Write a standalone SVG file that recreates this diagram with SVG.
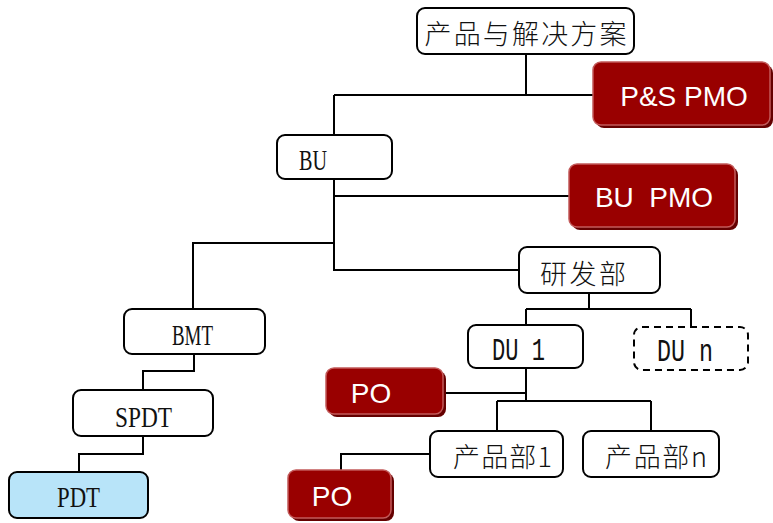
<svg xmlns="http://www.w3.org/2000/svg" width="773" height="523" viewBox="0 0 773 523">
  <style>
    .box { fill: #ffffff; stroke: #000000; stroke-width: 2; }
    .dash { fill: #ffffff; stroke: #000000; stroke-width: 2; stroke-dasharray: 7 5; }
    .pdt { fill: #b8e4f9; stroke: #000000; stroke-width: 2; }
    .pmo { fill: #990000; stroke: #c25a5a; stroke-width: 1.5; }
    .pmo-shade { fill: #650000; }
    .lbl { font-family: "Liberation Serif", "Noto Sans CJK SC", serif; font-size: 30px; fill: #111111; }
    .mono { font-family: "Liberation Mono", "Noto Sans CJK SC", monospace; font-size: 31px; fill: #111111; }
    .cjk { font-family: "Noto Sans CJK SC", "Liberation Serif", serif; font-size: 27px; fill: #111111; font-weight: 300; }
    .pmo-t { font-family: "Liberation Sans", Arial, sans-serif; font-size: 28px; fill: #ffffff; }
    .wire { fill: none; stroke: #000000; stroke-width: 2; }
  </style>

  <!-- connectors -->
  <g id="connectors">
    <path class="wire" d="M526,54 V95 M334,95 H593 M334,95 V135"/>
    <path class="wire" d="M334,179 V270 H519 M334,196 H569 M334,243 H193 V309"/>
    <path class="wire" d="M589,293 V309 M526,309 H691 M526,309 V325 M691,309 V327"/>
    <path class="wire" d="M526,368 V401 M526,393 H444 M497,401 H651 M497,401 V431 M651,401 V431"/>
    <path class="wire" d="M430,454 H341 V470"/>
    <path class="wire" d="M194,354 V371 H143 V390 M143,436 V454 H79 V472"/>
  </g>

  <g id="node-solutions">
    <rect class="box" x="417" y="8" width="217" height="46" rx="8"/>
    <text class="cjk" x="525.5" y="44" text-anchor="middle" textLength="202" lengthAdjust="spacing">产品与解决方案</text>
  </g>

  <g id="node-ps-pmo">
    <rect class="pmo-shade" x="596" y="65" width="177" height="63" rx="8"/>
    <rect class="pmo" x="593" y="62" width="177" height="63" rx="8"/>
    <text class="pmo-t" x="684" y="106" text-anchor="middle">P&amp;S PMO</text>
  </g>

  <g id="node-bu">
    <rect class="box" x="277" y="135" width="115" height="44" rx="8"/>
    <text class="lbl" x="299" y="170" textLength="28" lengthAdjust="spacingAndGlyphs">BU</text>
  </g>

  <g id="node-bu-pmo">
    <rect class="pmo-shade" x="572" y="167" width="166" height="63" rx="8"/>
    <rect class="pmo" x="569" y="164" width="166" height="63" rx="8"/>
    <text class="pmo-t" x="654" y="207" text-anchor="middle" xml:space="preserve">BU  PMO</text>
  </g>

  <g id="node-rd">
    <rect class="box" x="519" y="247" width="141" height="46" rx="8"/>
    <text class="cjk" x="583" y="284" text-anchor="middle" textLength="86" lengthAdjust="spacing">研发部</text>
  </g>

  <g id="node-du1">
    <rect class="box" x="468" y="325" width="115" height="43" rx="8"/>
    <text class="mono" x="492" y="360" textLength="53" lengthAdjust="spacingAndGlyphs" xml:space="preserve">DU 1</text>
  </g>

  <g id="node-dun">
    <rect class="dash" x="634" y="327" width="114" height="43" rx="8"/>
    <text class="mono" x="657" y="361" textLength="56" lengthAdjust="spacingAndGlyphs" xml:space="preserve">DU n</text>
  </g>

  <g id="node-po-du">
    <rect class="pmo-shade" x="329" y="371" width="117" height="46" rx="8"/>
    <rect class="pmo" x="326" y="368" width="117" height="46" rx="8"/>
    <text class="pmo-t" x="371" y="403" text-anchor="middle">PO</text>
  </g>

  <g id="node-product1">
    <rect class="box" x="430" y="431" width="133" height="46" rx="8"/>
    <text class="cjk" x="453" y="467" textLength="99" lengthAdjust="spacing">产品部1</text>
  </g>

  <g id="node-productn">
    <rect class="box" x="583" y="431" width="136" height="46" rx="8"/>
    <text class="cjk" x="605" y="467" textLength="102" lengthAdjust="spacing">产品部n</text>
  </g>

  <g id="node-po-product">
    <rect class="pmo-shade" x="291" y="473" width="103" height="48" rx="8"/>
    <rect class="pmo" x="288" y="470" width="103" height="48" rx="8"/>
    <text class="pmo-t" x="332" y="506" text-anchor="middle">PO</text>
  </g>

  <g id="node-bmt">
    <rect class="box" x="124" y="309" width="141" height="45" rx="8"/>
    <text class="lbl" x="172" y="345" textLength="41" lengthAdjust="spacingAndGlyphs">BMT</text>
  </g>

  <g id="node-spdt">
    <rect class="box" x="73" y="390" width="140" height="46" rx="8"/>
    <text class="lbl" x="115" y="427" textLength="57" lengthAdjust="spacingAndGlyphs">SPDT</text>
  </g>

  <g id="node-pdt">
    <rect class="pdt" x="9" y="472" width="139" height="46" rx="8"/>
    <text class="lbl" x="57" y="507" textLength="43" lengthAdjust="spacingAndGlyphs">PDT</text>
  </g>
</svg>
